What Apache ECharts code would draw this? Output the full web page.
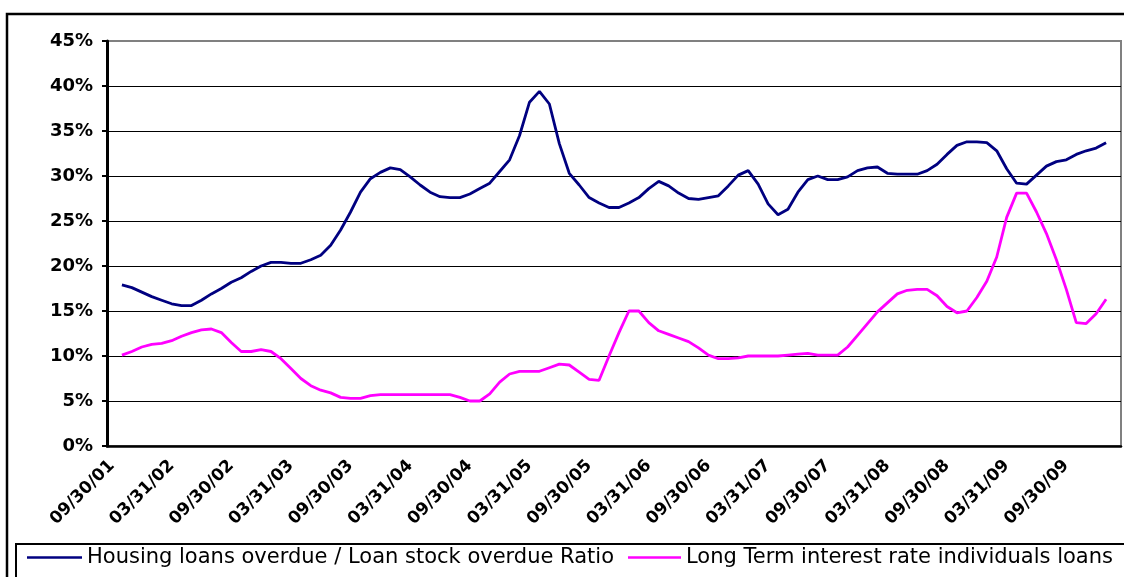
<!DOCTYPE html>
<html>
<head>
<meta charset="utf-8">
<title>Housing loans overdue ratio vs long term rate</title>
<script src="https://cdn.jsdelivr.net/npm/echarts@6/dist/echarts.min.js"></script>
<style>
  html, body { margin: 0; padding: 0; background: #fff; }
  #main { width: 1124px; height: 577px; }
</style>
</head>
<body>
<div id="main"></div>
<script>
// monthly categories: Sep 2001 .. Feb 2010 (month ends)
var firstYear = 2001, firstMonth = 8, monthCount = 102;

// series, in %, from Oct 2001 on (first category is empty)
var housingRatio = [
    17.9, 17.6, 17.1, 16.6, 16.2, 15.8, 15.6, 15.6, 16.2, 16.9,
    17.5, 18.2, 18.7, 19.4, 20.0, 20.4, 20.4, 20.3, 20.3, 20.7,
    21.2, 22.3, 24.0, 26.0, 28.2, 29.7, 30.4, 30.9, 30.7, 29.9,
    29.0, 28.2, 27.7, 27.6, 27.6, 28.0, 28.6, 29.2, 30.5, 31.8,
    34.5, 38.2, 39.4, 38.0, 33.6, 30.3, 29.0, 27.6, 27.0, 26.5,
    26.5, 27.0, 27.6, 28.6, 29.4, 28.9, 28.1, 27.5, 27.4, 27.6,
    27.8, 28.9, 30.1, 30.6, 29.1, 26.9, 25.7, 26.3, 28.2, 29.6,
    30.0, 29.6, 29.6, 29.9, 30.6, 30.9, 31.0, 30.3, 30.2, 30.2,
    30.2, 30.6, 31.3, 32.4, 33.4, 33.8, 33.8, 33.7, 32.8, 30.8,
    29.2, 29.1, 30.1, 31.1, 31.6, 31.8, 32.4, 32.8, 33.1, 33.7
];
var longTermRate = [
    10.1, 10.5, 11.0, 11.3, 11.4, 11.7, 12.2, 12.6, 12.9, 13.0,
    12.6, 11.5, 10.5, 10.5, 10.7, 10.5, 9.7, 8.6, 7.5, 6.7,
    6.2, 5.9, 5.4, 5.3, 5.3, 5.6, 5.7, 5.7, 5.7, 5.7,
    5.7, 5.7, 5.7, 5.7, 5.4, 5.0, 5.0, 5.8, 7.1, 8.0,
    8.3, 8.3, 8.3, 8.7, 9.1, 9.0, 8.2, 7.4, 7.3, 10.0,
    12.6, 15.0, 15.0, 13.7, 12.8, 12.4, 12.0, 11.6, 10.9, 10.1,
    9.7, 9.7, 9.8, 10.0, 10.0, 10.0, 10.0, 10.1, 10.2, 10.3,
    10.1, 10.1, 10.1, 11.0, 12.3, 13.6, 14.9, 15.9, 16.9, 17.3,
    17.4, 17.4, 16.7, 15.5, 14.8, 15.0, 16.5, 18.3, 21.0, 25.4,
    28.1, 28.1, 26.0, 23.6, 20.7, 17.4, 13.7, 13.6, 14.7, 16.3
];
var seriesNames = [
    'Housing loans overdue / Loan stock overdue Ratio',
    'Long Term interest rate individuals loans'
];

function pad(n) { return (n < 10 ? '0' : '') + n; }
var months = [];
for (var i = 0; i < monthCount; i++) {
    var d = new Date(Date.UTC(firstYear, firstMonth + i + 1, 0));
    months.push(pad(d.getUTCMonth() + 1) + '/' + pad(d.getUTCDate()) + '/' + pad(d.getUTCFullYear() % 100));
}

var myChart = echarts.init(document.getElementById('main'), null, { renderer: 'canvas' });

var legendText = { fontFamily: 'DejaVu Sans', fontSize: 21, color: '#000' };

var option = {
    backgroundColor: '#fff',
    animation: false,
    grid: {
        left: 107, right: 3, top: 41, bottom: 131,
        show: true, borderColor: '#808080', borderWidth: 2
    },
    legend: [
        {
            data: [seriesNames[0]], left: 27, top: 547, padding: 0,
            icon: 'rect', itemWidth: 55, itemHeight: 2.5,
            textStyle: legendText
        },
        {
            data: [seriesNames[1]], left: 628, top: 547, padding: 0,
            icon: 'rect', itemWidth: 53, itemHeight: 2.5,
            textStyle: legendText
        }
    ],
    xAxis: {
        type: 'category',
        data: months,
        boundaryGap: true,
        axisLine: { lineStyle: { color: '#000', width: 2.5 } },
        axisTick: { interval: 2, length: 5, lineStyle: { color: '#000', width: 2 } },
        axisLabel: {
            interval: 5, rotate: 45, margin: 17,
            color: '#000', fontFamily: 'DejaVu Sans', fontWeight: 'bold', fontSize: 17
        },
        splitLine: { show: false }
    },
    yAxis: {
        type: 'value',
        min: 0, max: 45, interval: 5,
        axisLine: { show: true, lineStyle: { color: '#000', width: 3 } },
        axisTick: { show: true, length: 5, lineStyle: { color: '#000', width: 2 } },
        axisLabel: {
            formatter: '{value}%', margin: 14,
            color: '#000', fontFamily: 'DejaVu Sans', fontWeight: 'bold', fontSize: 18
        },
        splitLine: { show: true, showMaxLine: false, lineStyle: { color: '#000', width: 1 } }
    },
    graphic: [
        // outer chart frame
        { type: 'rect', z: -10, shape: { x: 7, y: 14, width: 1140, height: 620 },
          style: { fill: null, stroke: '#000', lineWidth: 2.5 } },
        // legend frame
        { type: 'rect', z: -5, shape: { x: 16, y: 544, width: 1130, height: 60 },
          style: { fill: '#fff', stroke: '#000', lineWidth: 2 } }
    ],
    series: [
        {
            name: seriesNames[0], type: 'line', symbol: 'none',
            data: [null].concat(housingRatio),
            lineStyle: { color: '#000080', width: 2.8 }, itemStyle: { color: '#000080' }
        },
        {
            name: seriesNames[1], type: 'line', symbol: 'none',
            data: [null].concat(longTermRate),
            lineStyle: { color: '#ff00ff', width: 2.8 }, itemStyle: { color: '#ff00ff' }
        }
    ]
};

myChart.setOption(option);
</script>
</body>
</html>
